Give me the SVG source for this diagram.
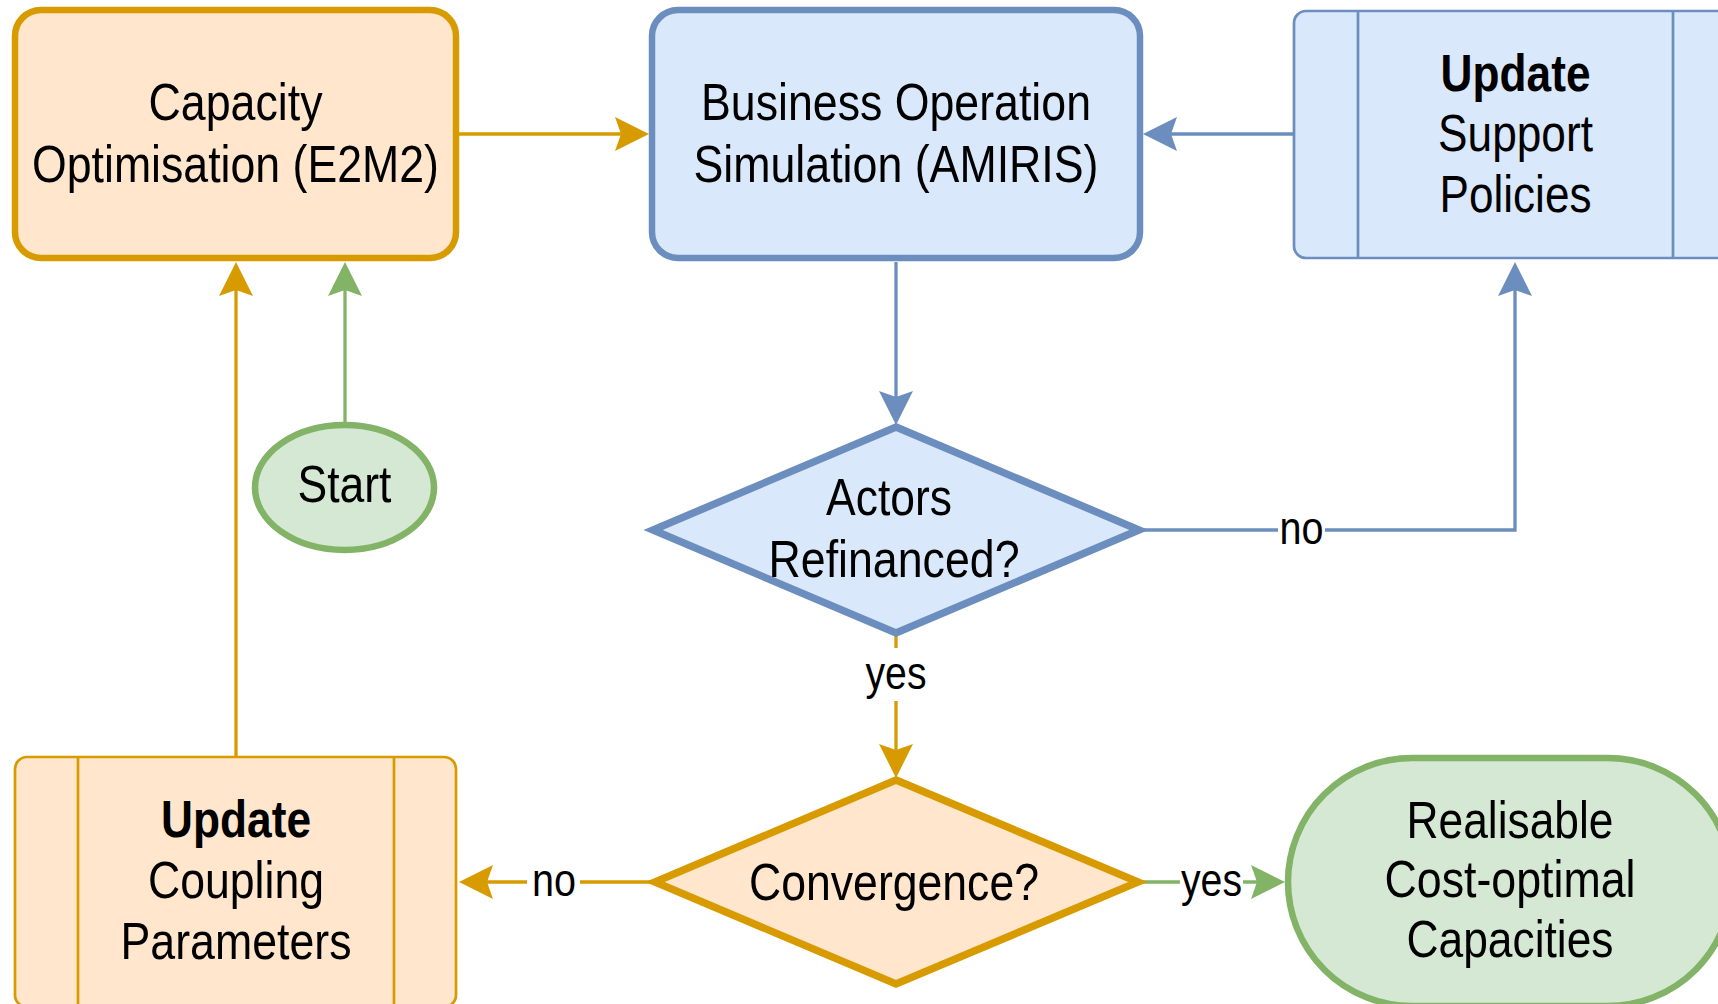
<svg xmlns="http://www.w3.org/2000/svg" width="1718" height="1004" viewBox="0 0 1718 1004">
<style>
.t{font-family:"Liberation Sans",Arial,Helvetica,sans-serif;font-size:52px;fill:#000;text-anchor:middle}
.b{font-weight:bold}
.l{font-size:46px}
.or{fill:#ffe6cc;stroke:#d79b00}
.bl{fill:#dae8fc;stroke:#6c8ebf}
.gr{fill:#d5e8d4;stroke:#82b366}
.thick{stroke-width:6.5}
.dia{stroke-width:7.5;stroke-linejoin:miter}
.thin{stroke-width:2.7}
.e{fill:none;stroke-width:3.3}
.eo{stroke:#d79b00}
.eb{stroke:#6c8ebf}
.eg{stroke:#82b366}
.bg{fill:#fff;stroke:none}
</style>
<defs>
<marker id="aO" viewBox="-36 -18 37 36" refX="-20" refY="0" markerWidth="37" markerHeight="36" markerUnits="userSpaceOnUse" orient="auto"><path d="M0,0 L-34,-17 L-28,0 L-34,17 Z" fill="#d79b00"/></marker>
<marker id="aB" viewBox="-36 -18 37 36" refX="-20" refY="0" markerWidth="37" markerHeight="36" markerUnits="userSpaceOnUse" orient="auto"><path d="M0,0 L-34,-17 L-28,0 L-34,17 Z" fill="#6c8ebf"/></marker>
<marker id="aG" viewBox="-36 -18 37 36" refX="-20" refY="0" markerWidth="37" markerHeight="36" markerUnits="userSpaceOnUse" orient="auto"><path d="M0,0 L-34,-17 L-28,0 L-34,17 Z" fill="#82b366"/></marker>
</defs>
<rect width="1718" height="1004" fill="#fff"/>

<g id="connectors">
<path class="e eo" d="M459,134 H629" marker-end="url(#aO)"/>
<path class="e eb" d="M1294,134 H1163" marker-end="url(#aB)"/>
<path class="e eb" d="M896,262 V405" marker-end="url(#aB)"/>
<path class="e eb" d="M1143,530 H1515 V282" marker-end="url(#aB)"/>
<path class="e eo" d="M896,636 V758" marker-end="url(#aO)"/>
<path class="e eo" d="M650,882 H479" marker-end="url(#aO)"/>
<path class="e eg" d="M1143,882 H1265" marker-end="url(#aG)"/>
<path class="e eo" d="M236,757 V282" marker-end="url(#aO)"/>
<path class="e eg" d="M345,425 V282" marker-end="url(#aG)"/>
<rect class="bg" x="1278" y="512" width="47" height="36"/>
<text class="t l" x="1301.5" y="544" textLength="44" lengthAdjust="spacingAndGlyphs">no</text>
<rect class="bg" x="864" y="648" width="64" height="53"/>
<text class="t l" x="896" y="689" textLength="61" lengthAdjust="spacingAndGlyphs">yes</text>
<rect class="bg" x="527" y="864" width="53" height="36"/>
<text class="t l" x="554" y="896" textLength="44" lengthAdjust="spacingAndGlyphs">no</text>
<rect class="bg" x="1180" y="864" width="63" height="36"/>
<text class="t l" x="1211.5" y="896" textLength="61" lengthAdjust="spacingAndGlyphs">yes</text>
</g>

<g id="capacity">
<rect class="or thick" x="15" y="10" width="441" height="248" rx="26"/>
<text class="t" x="235.5" y="120" textLength="174" lengthAdjust="spacingAndGlyphs">Capacity</text>
<text class="t" x="235.5" y="182" textLength="407" lengthAdjust="spacingAndGlyphs">Optimisation (E2M2)</text>
</g>

<g id="business">
<rect class="bl thick" x="652" y="10" width="488" height="248" rx="26"/>
<text class="t" x="896" y="120" textLength="390" lengthAdjust="spacingAndGlyphs">Business Operation</text>
<text class="t" x="896" y="182" textLength="405" lengthAdjust="spacingAndGlyphs">Simulation (AMIRIS)</text>
</g>

<g id="update-support">
<rect class="bl thin" x="1294" y="11" width="443" height="247" rx="12"/>
<path class="bl thin" d="M1358,11 V258 M1673,11 V258" fill="none"/>
<text class="t b" x="1515.5" y="91" textLength="150" lengthAdjust="spacingAndGlyphs">Update</text>
<text class="t" x="1515.5" y="151" textLength="155" lengthAdjust="spacingAndGlyphs">Support</text>
<text class="t" x="1515.5" y="212" textLength="152" lengthAdjust="spacingAndGlyphs">Policies</text>
</g>

<g id="start">
<ellipse class="gr thick" cx="344.5" cy="487.5" rx="89.5" ry="62.5"/>
<text class="t" x="344.5" y="502" textLength="94" lengthAdjust="spacingAndGlyphs">Start</text>
</g>

<g id="actors-refinanced">
<polygon class="bl dia" points="896,427 1139,530 896,633 653,530"/>
<text class="t" x="889" y="515" textLength="126" lengthAdjust="spacingAndGlyphs">Actors</text>
<text class="t" x="894" y="577" textLength="251" lengthAdjust="spacingAndGlyphs">Refinanced?</text>
</g>

<g id="convergence">
<polygon class="or dia" points="896,780 1138,882 896,984 655,882"/>
<text class="t" x="894" y="900" textLength="290" lengthAdjust="spacingAndGlyphs">Convergence?</text>
</g>

<g id="update-coupling">
<rect class="or thin" x="15" y="757" width="441" height="250" rx="12"/>
<path class="or thin" d="M78,757 V1007 M394,757 V1007" fill="none"/>
<text class="t b" x="236" y="837" textLength="150" lengthAdjust="spacingAndGlyphs">Update</text>
<text class="t" x="236" y="898" textLength="176" lengthAdjust="spacingAndGlyphs">Coupling</text>
<text class="t" x="236" y="959" textLength="231" lengthAdjust="spacingAndGlyphs">Parameters</text>
</g>

<g id="realisable">
<rect class="gr thick" x="1288" y="758" width="444" height="248" rx="124" ry="124"/>
<text class="t" x="1510" y="838" textLength="207" lengthAdjust="spacingAndGlyphs">Realisable</text>
<text class="t" x="1510" y="897" textLength="251" lengthAdjust="spacingAndGlyphs">Cost-optimal</text>
<text class="t" x="1510" y="957" textLength="207" lengthAdjust="spacingAndGlyphs">Capacities</text>
</g>
</svg>
